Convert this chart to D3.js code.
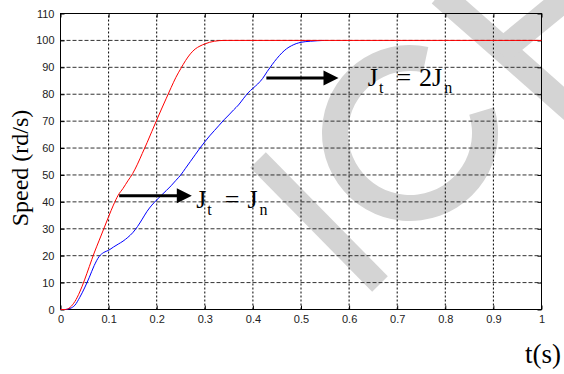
<!DOCTYPE html>
<html>
<head>
<meta charset="utf-8">
<script src="https://cdn.jsdelivr.net/npm/d3@7"></script>
<style>
  body { margin: 0; background: #fff; }
  svg { display: block; }
  .tick text { font-family: "Liberation Sans", Arial, sans-serif; font-size: 11px; fill: #222; }
  .ann { font-family: "Liberation Serif", "Times New Roman", serif; fill: #000; }
</style>
</head>
<body>
<div id="container"></div>
<script>
// Time axis (s) and speed (rd/s)
var xTicks = [0, 0.1, 0.2, 0.3, 0.4, 0.5, 0.6, 0.7, 0.8, 0.9, 1];
var yTicks = [0, 10, 20, 30, 40, 50, 60, 70, 80, 90, 100, 110];

// J_t = J_n  (red)
var redT = [0, 0.01, 0.02, 0.03, 0.04, 0.05, 0.06, 0.07, 0.08, 0.09, 0.1, 0.11, 0.12, 0.13, 0.14, 0.15,
            0.16, 0.17, 0.18, 0.19, 0.2, 0.21, 0.22, 0.23, 0.24, 0.25, 0.26, 0.27, 0.28, 0.29, 0.3,
            0.31, 0.32, 0.34, 1.0];
var redV = [0, 0, 0.8, 3, 6.5, 11, 16, 21, 25.5, 30, 34.5, 38.8, 42.5, 45, 47.8, 50.5,
            54, 58, 62, 66.2, 70.4, 74.5, 78.5, 82.5, 86.3, 89.5, 92.5, 95, 96.8, 97.9, 98.7,
            99.3, 99.7, 100, 100];

// J_t = 2J_n  (blue)
var blueT = [0, 0.01, 0.02, 0.03, 0.04, 0.05, 0.06, 0.07, 0.08, 0.09, 0.1, 0.11, 0.12, 0.13, 0.14, 0.15,
             0.16, 0.17, 0.18, 0.19, 0.2, 0.21, 0.22, 0.23, 0.24, 0.25, 0.26, 0.27, 0.28, 0.29, 0.3,
             0.31, 0.32, 0.33, 0.34, 0.35, 0.36, 0.37, 0.38, 0.39, 0.4, 0.41, 0.42, 0.43, 0.44, 0.45,
             0.46, 0.47, 0.48, 0.49, 0.5, 0.52, 0.548];
var blueV = [0, 0, 0.4, 1.6, 4.5, 8, 12, 16.3, 19.6, 21.2, 22, 23.2, 24.3, 25.4, 26.8, 28.5,
             30.8, 33.6, 36.5, 38.8, 40.7, 42.5, 44.2, 46, 48, 50, 52.5, 55, 57.5, 60, 62.3,
             64.5, 66.5, 68.5, 70.5, 72.3, 74.2, 76, 78.3, 80.5, 82.2, 83.8, 85.8, 88.5, 91, 93.3,
             95.3, 96.9, 98, 98.8, 99.3, 99.7, 100];

// annotation arrows (data coords): [tStart, tEnd, speed]
var arrow1 = [0.122, 0.273, 42.3];
var arrow2 = [0.428, 0.578, 86];

var width = 564, height = 374;

var svg = d3.select("#container").append("svg")
    .attr("width", width)
    .attr("height", height);

svg.append("rect").attr("width", width).attr("height", height).attr("fill", "#fff");

// light gray watermark behind the plot
var wm = svg.append("g").attr("fill", "none").attr("stroke", "#d4d4d4");
wm.append("line").attr("x1", 258).attr("y1", 160).attr("x2", 380).attr("y2", 284).attr("stroke-width", 22);
wm.append("path")
    .attr("transform", "translate(410,133)")
    .attr("stroke", "none").attr("fill", "#d4d4d4")
    .attr("d", d3.arc().innerRadius(62).outerRadius(88)
        .startAngle(73 * Math.PI / 180).endAngle(372 * Math.PI / 180)());
wm.append("line").attr("x1", 440).attr("y1", -6).attr("x2", 575).attr("y2", 113).attr("stroke-width", 25);
wm.append("line").attr("x1", 500).attr("y1", 52).attr("x2", 578).attr("y2", -12).attr("stroke-width", 25);

var x = d3.scaleLinear().domain([0, 1]).range([60.5, 541.5]);
var y = d3.scaleLinear().domain([0, 110]).range([309.5, 13.5]);

// grid
var grid = svg.append("g");
grid.selectAll(".vg").data(xTicks.slice(1, -1)).enter().append("line")
    .attr("x1", function(d) { return x(d); }).attr("x2", function(d) { return x(d); })
    .attr("y1", y(0)).attr("y2", y(110))
    .attr("stroke", "#000").attr("stroke-dasharray", "2,2");
grid.selectAll(".hg").data(yTicks.slice(1, -1)).enter().append("line")
    .attr("y1", function(d) { return y(d); }).attr("y2", function(d) { return y(d); })
    .attr("x1", x(0)).attr("x2", x(1))
    .attr("stroke", "#333").attr("stroke-dasharray", "4,2");

// axes with inward ticks
var xAxis = svg.append("g").attr("transform", "translate(0," + y(0) + ")")
    .call(d3.axisBottom(x).tickValues(xTicks).tickSizeInner(-4).tickSizeOuter(0).tickPadding(6)
        .tickFormat(function(d) { return d === 1 ? "1" : (d === 0 ? "0" : d3.format(".1f")(d)); }));
var yAxis = svg.append("g").attr("transform", "translate(" + x(0) + ",0)")
    .call(d3.axisLeft(y).tickValues(yTicks).tickSizeInner(-4).tickSizeOuter(0).tickPadding(6));
svg.append("g").attr("transform", "translate(0," + y(110) + ")")
    .call(d3.axisTop(x).tickValues(xTicks).tickSizeInner(-4).tickSizeOuter(0).tickFormat(""));
svg.append("g").attr("transform", "translate(" + x(1) + ",0)")
    .call(d3.axisRight(y).tickValues(yTicks).tickSizeInner(-4).tickSizeOuter(0).tickFormat(""));
svg.selectAll(".domain").remove();
svg.selectAll(".tick line").attr("stroke", "#000");

// frame
svg.append("rect")
    .attr("x", x(0)).attr("y", y(110))
    .attr("width", x(1) - x(0)).attr("height", y(0) - y(110))
    .attr("fill", "none").attr("stroke", "#000");

// curves
var line = d3.line()
    .x(function(d) { return x(d[0]); })
    .y(function(d) { return y(d[1]); })
    .curve(d3.curveMonotoneX);

svg.append("path")
    .datum(d3.zip(blueT, blueV))
    .attr("d", line)
    .attr("fill", "none").attr("stroke", "#0000ff").attr("stroke-width", 1);
svg.append("path")
    .datum(d3.zip(redT, redV))
    .attr("d", line)
    .attr("fill", "none").attr("stroke", "#ff0000").attr("stroke-width", 1);

// arrows
function drawArrow(a) {
    var x0 = x(a[0]), x1 = x(a[1]), yy = y(a[2]);
    svg.append("line")
        .attr("x1", x0).attr("x2", x1 - 12).attr("y1", yy).attr("y2", yy)
        .attr("stroke", "#000").attr("stroke-width", 3);
    svg.append("path")
        .attr("d", "M" + x1 + "," + yy + "L" + (x1 - 15) + "," + (yy - 7.5) + "L" + (x1 - 15) + "," + (yy + 7.5) + "Z")
        .attr("fill", "#000");
}
drawArrow(arrow1);
drawArrow(arrow2);

// J_t = ... labels
function jLabel(t, v, rhs) {
    var txt = svg.append("text").attr("class", "ann")
        .attr("x", x(t)).attr("y", y(v)).attr("font-size", 26);
    txt.append("tspan").text("J");
    txt.append("tspan").attr("font-size", 16).attr("dx", 1).attr("dy", 7).text("t");
    txt.append("tspan").attr("dx", 13).attr("dy", -7).text("=");
    txt.append("tspan").attr("dx", 8).text(rhs);
    txt.append("tspan").attr("font-size", 16).attr("dx", 2).attr("dy", 7).text("n");
}
jLabel(0.282, 37.8, "J");
jLabel(0.639, 83, "2J");

// axis titles
svg.append("text").attr("class", "ann")
    .attr("transform", "translate(28,168) rotate(-90)")
    .attr("text-anchor", "middle")
    .attr("font-size", 24)
    .text("Speed (rd/s)");

svg.append("text").attr("class", "ann")
    .attr("x", 561).attr("y", 363)
    .attr("text-anchor", "end")
    .attr("font-size", 27)
    .text("t(s)");
</script>
</body>
</html>
